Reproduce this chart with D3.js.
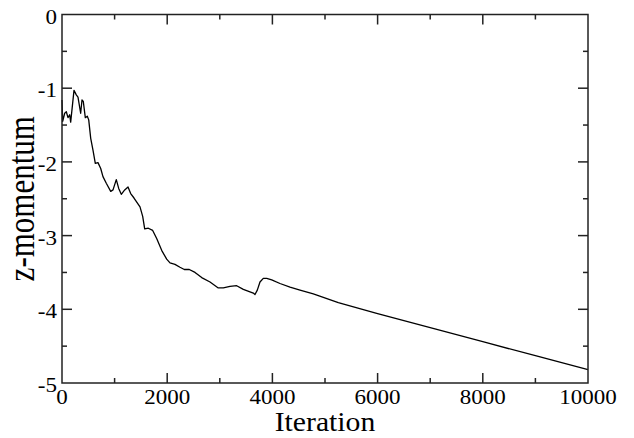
<!DOCTYPE html>
<html><head><meta charset="utf-8">
<script src="https://cdn.jsdelivr.net/npm/d3@7"></script>
<style>body{margin:0;background:#fff}svg{display:block}text{font-family:"Liberation Serif","DejaVu Serif",serif;fill:#000}</style>
</head><body>
<svg id="c" width="634" height="438"></svg>
<script>
const iterations = [0,13,51,82,114,146,165,228,272,304,355,380,405,443,481,508,546,589,633,684,736,779,842,926,970,1032,1078,1127,1192,1255,1306,1369,1483,1534,1572,1641,1724,1800,1895,1990,2053,2148,2243,2325,2420,2529,2656,2814,2971,3067,3194,3321,3447,3637,3669,3713,3764,3827,3892,3987,4144,4335,4525,4778,5253,6000,7000,8000,9000,10000];
const zMomentum = [-1.16,-1.45,-1.34,-1.32,-1.40,-1.36,-1.46,-1.03,-1.09,-1.12,-1.34,-1.16,-1.18,-1.40,-1.38,-1.43,-1.68,-1.84,-2.02,-2.01,-2.09,-2.20,-2.29,-2.40,-2.38,-2.24,-2.36,-2.44,-2.38,-2.34,-2.43,-2.49,-2.61,-2.74,-2.91,-2.90,-2.93,-3.04,-3.20,-3.32,-3.37,-3.39,-3.43,-3.46,-3.46,-3.50,-3.57,-3.63,-3.71,-3.71,-3.69,-3.68,-3.73,-3.78,-3.80,-3.74,-3.63,-3.58,-3.58,-3.60,-3.65,-3.70,-3.74,-3.79,-3.91,-4.06,-4.25,-4.44,-4.63,-4.82];
const xMajorTicks = [0,2000,4000,6000,8000,10000];
const xMinorTicks = [1000,3000,5000,7000,9000];
const yMajorTicks = [0,-1,-2,-3,-4,-5];
const yMinorTicks = [-0.5,-1.5,-2.5,-3.5,-4.5];
const xTitle = "Iteration";
const yTitle = "z-momentum";

const L=62,R=588,T=14.5,B=383;
const svg=d3.select("#c");
const x=d3.scaleLinear().domain([0,10000]).range([L,R]);
const y=d3.scaleLinear().domain([-5,0]).range([B,T]);
const ink="#222";

// data line
const data=iterations.map((d,i)=>[d,zMomentum[i]]);
svg.append("path").datum(data)
  .attr("fill","none").attr("stroke","#000").attr("stroke-width",1.3).attr("stroke-linejoin","round")
  .attr("d",d3.line().x(d=>x(d[0])).y(d=>y(d[1])));

// frame
svg.append("rect").attr("x",L).attr("y",T).attr("width",R-L).attr("height",B-T)
  .attr("fill","none").attr("stroke",ink).attr("stroke-width",1.5);

// ticks (inward on all sides)
const tg=svg.append("g").attr("stroke",ink).attr("stroke-width",1.5);
function xt(vals,len){vals.forEach(v=>{
  tg.append("line").attr("x1",x(v)).attr("x2",x(v)).attr("y1",B).attr("y2",B-len);
  tg.append("line").attr("x1",x(v)).attr("x2",x(v)).attr("y1",T).attr("y2",T+len);});}
function yt(vals,len){vals.forEach(v=>{
  tg.append("line").attr("y1",y(v)).attr("y2",y(v)).attr("x1",L).attr("x2",L+len);
  tg.append("line").attr("y1",y(v)).attr("y2",y(v)).attr("x1",R).attr("x2",R-len);});}
xt(xMajorTicks.slice(1,-1),10); xt(xMinorTicks,5);
yt(yMajorTicks.slice(1,-1),10); yt(yMinorTicks,5);

// tick labels
xMajorTicks.forEach(v=>{
  svg.append("text").attr("transform",`translate(${x(v)},404) scale(1.15,1)`)
    .attr("text-anchor","middle").attr("font-size",20).text(d3.format("d")(v));
});
yMajorTicks.forEach(v=>{
  svg.append("text").attr("transform",`translate(57,${y(v)+9}) scale(1.15,1)`)
    .attr("text-anchor","end").attr("font-size",20).text(v===0?"0":String(v).replace("\u2212","-"));
});

// titles
svg.append("text").attr("transform",`translate(${(L+R)/2},431) scale(1.1,1)`)
  .attr("text-anchor","middle").attr("font-size",27).text(xTitle);
svg.append("text").attr("transform",`translate(34,${(T+B)/2}) scale(1.2,1) rotate(-90)`)
  .attr("text-anchor","middle").attr("font-size",31).text(yTitle);
</script>
</body></html>
